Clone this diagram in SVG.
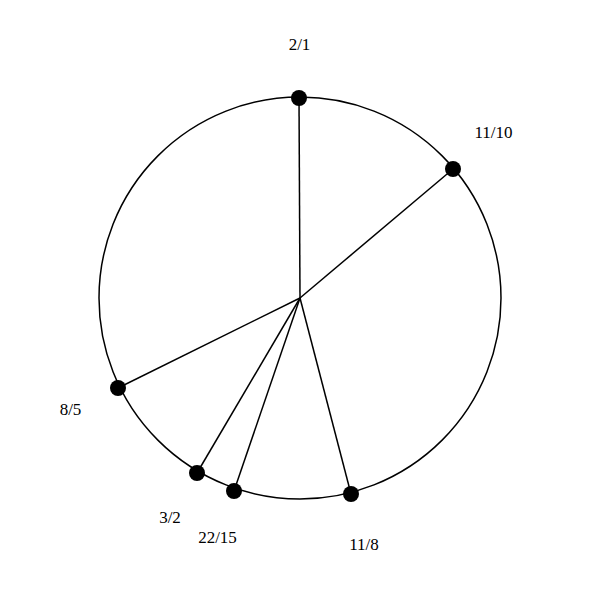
<svg xmlns="http://www.w3.org/2000/svg" width="600" height="600" viewBox="0 0 600 600">
<style>
.ring{fill:none;stroke:#000;stroke-width:1.5}
.edge{stroke:#000;stroke-width:1.5}
.dot{fill:#000}
.lbl{font-family:"Liberation Serif",serif;font-size:17px;text-anchor:middle;fill:#000}
</style>
<rect width="600" height="600" fill="#fff"/>
<circle class="ring" cx="300" cy="298" r="201"/>
<g id="connectors">
<line class="edge" x1="300" y1="298" x2="299" y2="98"/>
<line class="edge" x1="300" y1="298" x2="453" y2="169"/>
<line class="edge" x1="300" y1="298" x2="118" y2="388"/>
<line class="edge" x1="300" y1="298" x2="197" y2="473"/>
<line class="edge" x1="300" y1="298" x2="234" y2="491"/>
<line class="edge" x1="300" y1="298" x2="351" y2="494"/>
</g>
<g id="n-2-1"><circle class="dot" cx="299" cy="98" r="8"/><text class="lbl" x="299.5" y="50">2/1</text></g>
<g id="n-11-10"><circle class="dot" cx="453" cy="169" r="8"/><text class="lbl" x="493.5" y="138">11/10</text></g>
<g id="n-8-5"><circle class="dot" cx="118" cy="388" r="8"/><text class="lbl" x="70.5" y="415">8/5</text></g>
<g id="n-3-2"><circle class="dot" cx="197" cy="473" r="8"/><text class="lbl" x="170" y="523">3/2</text></g>
<g id="n-22-15"><circle class="dot" cx="234" cy="491" r="8"/><text class="lbl" x="217.5" y="543">22/15</text></g>
<g id="n-11-8"><circle class="dot" cx="351" cy="494" r="8"/><text class="lbl" x="364" y="550">11/8</text></g>
</svg>
